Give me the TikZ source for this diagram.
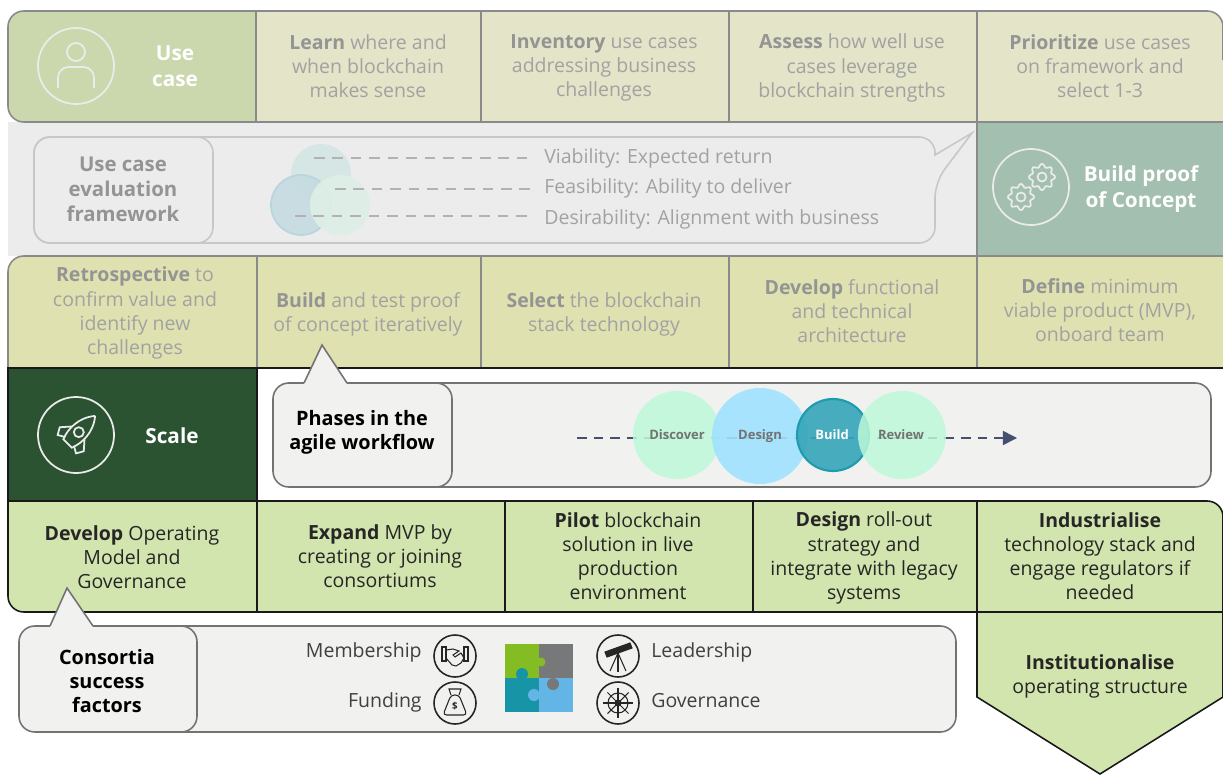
\documentclass[tikz,border=0pt]{standalone}
\usepackage{fontspec}
\setmainfont{Open Sans}
\usetikzlibrary{arrows.meta}
\definecolor{palecell}{HTML}{E4E4C8}
\definecolor{usegreen}{HTML}{CBD8AD}
\definecolor{olivecell}{HTML}{DFE2B0}
\definecolor{proofgreen}{HTML}{A3BFB0}
\definecolor{scalegreen}{HTML}{2B5331}
\definecolor{limecell}{HTML}{D2E5AE}
\definecolor{fadeband}{HTML}{EDECEC}
\definecolor{fadeline}{HTML}{8A8A8A}
\definecolor{fadetext}{HTML}{A2A2A2}
\definecolor{fadebold}{HTML}{949494}
\definecolor{boxfill}{HTML}{F1F1F0}
\definecolor{flowblue}{HTML}{44506E}
\definecolor{mintphase}{HTML}{BDF9D9}
\definecolor{skyphase}{HTML}{A0E2FF}
\definecolor{tealphase}{HTML}{35A5B8}
\definecolor{tealedge}{HTML}{1E9CAE}
\definecolor{vennone}{HTML}{D6E6E4}
\definecolor{venntwo}{HTML}{C5DBE0}
\definecolor{vennedge}{HTML}{B8D6DC}
\definecolor{vennthree}{HTML}{DDEFE6}
\definecolor{puzzlegreen}{HTML}{84BC24}
\definecolor{puzzlegrey}{HTML}{76787A}
\definecolor{puzzleteal}{HTML}{1795A6}
\definecolor{puzzleblue}{HTML}{62B5E5}
\tikzset{
  bodytext/.style={align=center, inner sep=0pt, font=\fontsize{11.1}{13.7}\selectfont},
  fadedtext/.style={bodytext, text=fadetext},
  darktext/.style={bodytext, text=black!85},
  whitehead/.style={align=center, inner sep=0pt, text=white, font=\fontsize{11.8}{15}\selectfont\bfseries},
  boxhead/.style={align=center, inner sep=0pt, text=black, font=\fontsize{11.3}{13.7}\selectfont\bfseries},
  cellrule/.style={draw=fadeline, line width=0.9pt},
  hardrule/.style={draw=black!90, line width=0.9pt},
  fadebox/.style={draw=black!22, line width=0.9pt, rounded corners=9pt},
  flowbox/.style={draw=black!55, fill=boxfill, line width=0.9pt, rounded corners=9pt},
  tailline/.style={draw=black!55, line width=0.9pt},
  vennline/.style={black!30, dash pattern=on 6pt off 4.5pt, line width=0.7pt},
  whiteicon/.style={draw=white!92!black, line width=1pt},
  blackicon/.style={draw=black!85, line width=0.6pt},
  phasetext/.style={inner sep=0pt, font=\fontsize{7.4}{9}\selectfont\bfseries, text=black!55},
  criterion/.style={right, inner sep=0pt, text=fadetext, font=\fontsize{11.1}{13.6}\selectfont},
  factor/.style={inner sep=0pt, text=black!75, font=\fontsize{11.1}{13.6}\selectfont}
}
\newcommand{\fb}[1]{{\bfseries\textcolor{fadebold}{#1}}}

\begin{document}
\begin{tikzpicture}[x=0.02cm, y=-0.02cm]
  \useasboundingbox (0, 0) rectangle (1223, 774);

  % grey band behind the evaluation framework
  \fill[fadeband] (8, 122) rectangle (1223, 256);
  \fill[proofgreen] (977, 122) rectangle (1223, 256);

  % top row
  \fill[palecell, rounded corners=9pt] (1223, 122) -- (1223, 11) -- (240, 11) -- (240, 122);
  \fill[usegreen, rounded corners=9pt] (256, 122) -- (8, 122) -- (8, 11) -- (256, 11);
  \fill[usegreen] (100, 11) rectangle (256, 122);
  \draw[cellrule, rounded corners=9pt] (600, 11) -- (8, 11) -- (8, 122) -- (600, 122);
  \draw[cellrule, rounded corners=9pt] (1223, 122) -- (600, 122);
  \draw[cellrule, rounded corners=9pt] (600, 11) -- (1223, 11) -- (1223, 60);
  \foreach \x in {256, 481, 729, 977}
    \draw[cellrule] (\x, 11) -- (\x, 122);
  \draw[cellrule] (977, 122) -- (977, 256);

  % third row
  \fill[olivecell, rounded corners=9pt] (8, 368) -- (8, 256) -- (100, 256) -- (100, 368);
  \fill[olivecell] (40, 256) rectangle (1223, 368);
  \draw[cellrule, rounded corners=9pt] (8, 368) -- (8, 256) -- (600, 256);
  \draw[cellrule] (600, 256) -- (1223, 256);
  \foreach \x in {257, 481, 729, 977}
    \draw[cellrule] (\x, 256) -- (\x, 368);

  % pentagon under the last column
  \draw[hardrule, fill=limecell] (977, 612) -- (977, 697) -- (1100, 774) -- (1223, 697) -- (1223, 612);

  % fifth row
  \fill[limecell, rounded corners=9pt] (8, 501) -- (8, 612) -- (100, 612) -- (100, 501);
  \fill[limecell, rounded corners=9pt] (1223, 612) -- (1223, 501) -- (1000, 501) -- (1000, 612);
  \fill[limecell] (40, 501) rectangle (1100, 612);
  \draw[hardrule, rounded corners=9pt] (8, 501) -- (8, 612) -- (600, 612);
  \draw[hardrule] (600, 612) -- (1223, 612);
  \draw[hardrule] (8, 501) -- (600, 501);
  \draw[hardrule, rounded corners=9pt] (600, 501) -- (1223, 501) -- (1223, 612);
  \foreach \x in {257, 505, 753, 977}
    \draw[hardrule] (\x, 501) -- (\x, 612);

  % scale cell
  \draw[hardrule, fill=scalegreen] (8, 368) rectangle (257, 501);
  \draw[hardrule] (257, 368) -- (1223, 368);

  % evaluation framework callout
  \draw[fadebox] (60, 137) -- (34, 137) -- (34, 243) -- (935, 243) -- (935, 182)
    [sharp corners] -- (972, 133) -- (935, 155) [rounded corners=9pt] -- (935, 137) -- (60, 137);
  \draw[fadebox] (60, 137) -- (34, 137) -- (34, 243) -- (213, 243) -- (213, 137) -- (60, 137);
  \node[align=center, inner sep=0pt, text=fadebold, font=\fontsize{11.6}{14.2}\selectfont\bfseries] (framework) at (123, 189)
    {Use case\\evaluation\\framework};
  \fill[vennone] (321, 174) circle (30);
  \draw[vennedge, fill=venntwo, fill opacity=0.9, line width=1pt] (301, 205) circle (30);
  \fill[vennthree, fill opacity=0.92] (340, 205) circle (30);
  \coordinate (viabilityend) at (314, 158);
  \coordinate (feasibleend) at (335, 189);
  \coordinate (desireend) at (295, 216);
  \node[criterion] (viability) at (544, 158) {Viability: Expected return};
  \node[criterion] (feasibility) at (544, 188) {Feasibility: Ability to deliver};
  \node[criterion] (desirability) at (544, 219) {Desirability: Alignment with business};
  \draw[vennline] (viabilityend) -- (530, 158);
  \draw[vennline] (feasibleend) -- (530, 189);
  \draw[vennline] (desireend) -- (530, 216);

  % agile workflow callout
  \draw[flowbox] (300, 383) -- (1211, 383) -- (1211, 487) -- (300, 487);
  \draw[flowbox] (273, 383) rectangle (452, 487);
  \fill[boxfill] (304, 384) -- (322, 345) -- (347, 384) -- cycle;
  \draw[tailline] (304, 383) -- (322, 345) -- (347, 383);
  \node[boxhead] (phases) at (362, 432) {Phases in the\\agile workflow};
  \coordinate (flowstart) at (577, 438);
  \coordinate (flowend) at (1017, 438);
  \draw[flowblue, dash pattern=on 5.5pt off 4pt, line width=0.9pt, -{Triangle[length=8pt, width=8pt]}] (flowstart) -- (flowend);
  \fill[mintphase, fill opacity=0.86] (677, 435) circle (44);
  \fill[skyphase, fill opacity=0.9] (760, 436) circle (48);
  \draw[tealedge, fill=tealphase, fill opacity=0.9, line width=1.2pt] (833, 435) circle (36);
  \fill[mintphase, fill opacity=0.84] (902, 435) circle (44);
  \node[phasetext] (discover) at (677, 435) {Discover};
  \node[phasetext] (design) at (760, 436) {Design};
  \node[phasetext, text=white] (build) at (832, 435) {Build};
  \node[phasetext] (review) at (901, 435) {Review};

  % consortia callout
  \draw[flowbox] (40, 626) -- (956, 626) -- (956, 732) -- (40, 732);
  \draw[flowbox] (19, 626) rectangle (197, 732);
  \fill[boxfill] (50, 627) -- (67, 588) -- (93, 627) -- cycle;
  \draw[tailline] (50, 626) -- (67, 588) -- (93, 626);
  \node[boxhead] (consortia) at (107, 681) {Consortia\\success\\factors};
  \node[factor, left] (membership) at (422, 652) {Membership};
  \node[factor, left] (funding) at (422, 702) {Funding};
  \node[factor, right] (leadership) at (651, 652) {Leadership};
  \node[factor, right] (governance) at (651, 701) {Governance};

  % puzzle
  \fill[puzzlegrey] (539, 644) rectangle (573, 678);
  \fill[puzzlegreen] (505, 644) rectangle (539, 678);
  \fill[puzzleteal] (505, 678) rectangle (539, 712);
  \fill[puzzleblue] (539, 678) rectangle (573, 712);
  \fill[puzzlegreen] (541, 662) circle (4.5);
  \fill[puzzleteal] (522, 674) circle (6);
  \fill[puzzlegrey] (553, 684) circle (6);
  \fill[puzzleblue] (534, 695) circle (6);

  % icons of the top cells
  \begin{scope}[shift={(76, 66)}]
    \draw[whiteicon] (0, 0) circle (38);
    \draw[whiteicon] (0, -14) circle (9);
    \draw[whiteicon, rounded corners=6pt] (-18, 22) -- (-18, 1) -- (18, 1) -- (18, 22);
  \end{scope}
  \begin{scope}[shift={(1031, 187)}]
    \draw[whiteicon] (0, 0) circle (38);
    \draw[whiteicon] plot[samples=65, domain=0:360] ({11+(11.5+1.6*cos(8*\x))*cos(\x)}, {-10+(11.5+1.6*cos(8*\x))*sin(\x)});
    \draw[whiteicon] (11, -10) circle (4.5);
    \draw[whiteicon] plot[samples=65, domain=0:360] ({-10+(11.5+1.6*cos(8*\x))*cos(\x)}, {10+(11.5+1.6*cos(8*\x))*sin(\x)});
    \draw[whiteicon] (-10, 10) circle (4.5);
  \end{scope}
  \begin{scope}[shift={(76, 435)}]
    \draw[whiteicon] (0, 0) circle (38);
    \begin{scope}[rotate=-45]
      \draw[whiteicon] (0, -27) .. controls (11, -14) and (10, 2) .. (6, 12) -- (-6, 12) .. controls (-10, 2) and (-11, -14) .. (0, -27);
      \draw[whiteicon] (-9, -3) -- (-17, 6) -- (-13, 13) -- (-6, 9);
      \draw[whiteicon] (9, -3) -- (17, 6) -- (13, 13) -- (6, 9);
      \draw[whiteicon] (0, -4) circle (5);
    \end{scope}
  \end{scope}

  % icons of the consortia factors
  \begin{scope}[shift={(455, 656)}]
    \draw[blackicon, line width=0.9pt] (0, 0) circle (21);
    \draw[blackicon] (-13, -9) -- (-13, 5) -- (-9, 5) -- (-9, -9) -- cycle;
    \draw[blackicon] (13, -9) -- (13, 5) -- (9, 5) -- (9, -9) -- cycle;
    \draw[blackicon] (-9, -6) -- (-2, -7) -- (4, -5) -- (-2, -1) -- (0, 1) -- (6, -3) -- (9, 2);
    \draw[blackicon] (-9, 2) -- (-3, 9) -- (1, 10) -- (6, 7) -- (9, 2);
  \end{scope}
  \begin{scope}[shift={(455, 703)}]
    \draw[blackicon, line width=0.9pt] (0, 0) circle (21);
    \draw[blackicon, rounded corners=2pt] (-4, -8) -- (-12, 12) -- (12, 12) -- (4, -8) -- cycle;
    \draw[blackicon] (-4, -8) -- (-6, -14) -- (6, -14) -- (4, -8);
    \node[inner sep=0pt, text=black!85, font=\fontsize{5.5}{6}\selectfont\bfseries] (dollar) at (0, 3) {\$};
  \end{scope}
  \begin{scope}[shift={(618, 656)}]
    \draw[blackicon, line width=0.9pt] (0, 0) circle (21);
    \draw[blackicon, fill=black!85] (-13, -4) -- (12, -13) -- (14, -8) -- (-11, 1) -- cycle;
    \draw[blackicon] (0, -3) -- (-8, 15);
    \draw[blackicon] (0, -3) -- (0, 16);
    \draw[blackicon] (0, -3) -- (8, 15);
  \end{scope}
  \begin{scope}[shift={(618, 703)}]
    \draw[blackicon, line width=0.9pt] (0, 0) circle (21);
    \draw[blackicon] (0, 0) circle (10);
    \draw[blackicon, fill=black!85] (0, 0) circle (3);
    \foreach \a in {0, 45, ..., 315}
      \draw[blackicon] (\a:2) -- (\a:15);
  \end{scope}

  % cell labels
  \node[whitehead] (usecase) at (175, 66) {Use\\case};
  \node[fadedtext] (learn) at (368, 66) {\fb{Learn} where and\\when blockchain\\makes sense};
  \node[fadedtext] (inventory) at (604, 68) {\fb{Inventory} use cases\\addressing business\\challenges};
  \node[fadedtext] (assess) at (852, 68) {\fb{Assess} how well use\\cases leverage\\blockchain strengths};
  \node[fadedtext] (prioritize) at (1100, 66) {\fb{Prioritize} use cases\\on framework and\\select 1-3};
  \node[whitehead] (proof) at (1141, 189) {Build proof\\of Concept};
  \node[fadedtext] (retro) at (135, 313) {\fb{Retrospective} to\\confirm value and\\identify new\\challenges};
  \node[fadedtext] (buildtest) at (368, 314) {\fb{Build} and test proof\\of concept iteratively};
  \node[fadedtext] (select) at (604, 314) {\fb{Select} the blockchain\\stack technology};
  \node[fadedtext] (develop) at (852, 311) {\fb{Develop} functional\\and technical\\architecture};
  \node[fadedtext] (define) at (1100, 310) {\fb{Define} minimum\\viable product (MVP),\\onboard team};
  \node[whitehead] (scale) at (172, 436) {Scale};
  \node[darktext] (model) at (132, 557) {\textbf{Develop} Operating\\Model and\\Governance};
  \node[darktext] (expand) at (380, 556) {\textbf{Expand} MVP by\\creating or joining\\consortiums};
  \node[darktext] (pilot) at (628, 556) {\textbf{Pilot} blockchain\\solution in live\\production\\environment};
  \node[darktext] (rollout) at (864, 558) {\textbf{Design} roll-out\\strategy and\\integrate with legacy\\systems};
  \node[darktext] (industrialise) at (1100, 556) {\textbf{Industrialise}\\technology stack and\\engage regulators if\\needed};
  \node[darktext] (institution) at (1100, 676) {\textbf{Institutionalise}\\operating structure};
\end{tikzpicture}
\end{document}
